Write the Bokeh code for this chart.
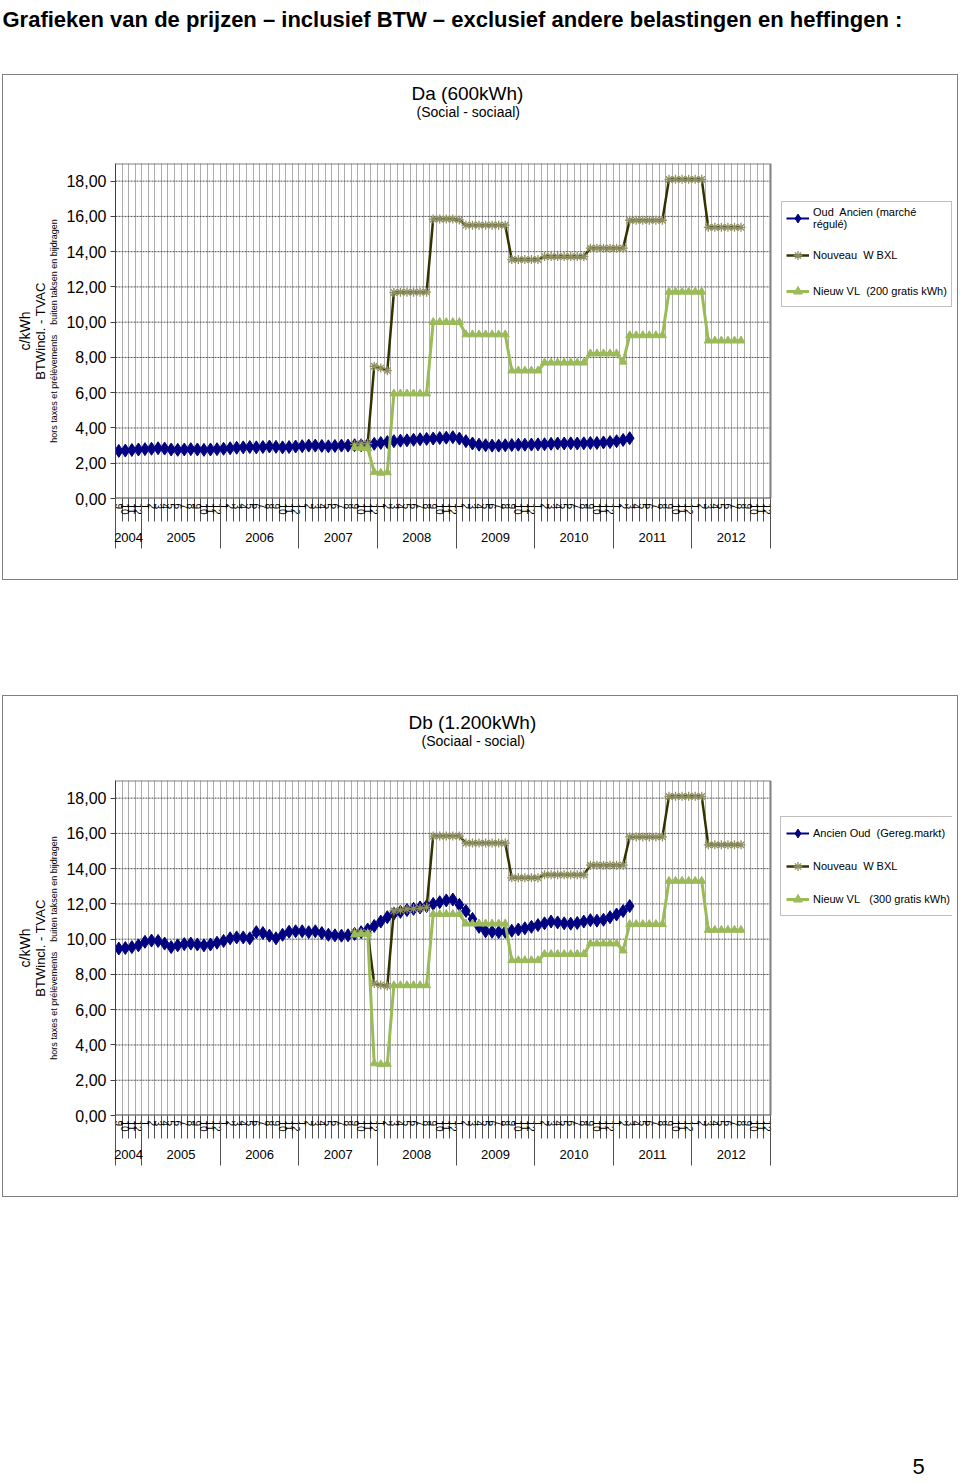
from bokeh.plotting import figure
from bokeh.models import (ColumnDataSource, FixedTicker, LinearAxis, Label, Legend,
                          LegendItem, Range1d, CustomJSTickFormatter, Grid, Title, Spacer)
from bokeh.layouts import column
from bokeh.embed import file_html
from bokeh.resources import INLINE

FONT = "Liberation Sans"

PAGE_TITLE = "Grafieken van de prijzen \u2013 inclusief BTW \u2013 exclusief andere belastingen en heffingen :"
PAGE_NUMBER = "5"

# ---- axes / categories ----
MONTH_LABELS = ["9", "10", "11", "12"] + ["1", "2", "3", "4", "5", "6", "7", "8", "9", "10", "11", "12"] * 8
N_MONTHS = len(MONTH_LABELS)          # Sep 2004 .. Dec 2012
YEAR_LABELS = ["2004", "2005", "2006", "2007", "2008", "2009", "2010", "2011", "2012"]
YEAR_FIRST_MONTH = [0, 4, 16, 28, 40, 52, 64, 76, 88]
Y_TICKS = [0, 2, 4, 6, 8, 10, 12, 14, 16, 18]
Y_TICK_LABELS = ["0,00", "2,00", "4,00", "6,00", "8,00", "10,00", "12,00", "14,00", "16,00", "18,00"]
Y_MAX = 19
NEW_START = 36   # first month of the "Nouveau" / "Nieuw" series

YLABEL_1 = "c/kWh"
YLABEL_2 = "BTWincl. - TVAC"
YLABEL_3 = "hors taxes et pr\u00e9l\u00e8vements\u00a0\u00a0\u00a0\u00a0buiten taksen en bijdragen"

# ---- chart Da (600 kWh) ----
DA_TITLE = "Da (600kWh)"
DA_SUBTITLE = "(Social - sociaal)"
DA_LEGEND = ["Oud\u00a0 Ancien (march\u00e9\nr\u00e9gul\u00e9)", "Nouveau\u00a0 W BXL", "Nieuw VL\u00a0 (200 gratis kWh)"]
DA_OUD = [2.70, 2.72, 2.75, 2.78,
          2.80, 2.82, 2.85, 2.83, 2.78, 2.76, 2.78, 2.80, 2.78, 2.76, 2.78, 2.80,
          2.82, 2.85, 2.88, 2.90, 2.92, 2.90, 2.92, 2.95, 2.93, 2.90, 2.92, 2.95,
          2.97, 3.00, 3.00, 2.98, 2.96, 2.98, 3.00, 3.00, 3.02, 3.02, 3.05, 3.10,
          3.15, 3.20, 3.25, 3.28, 3.30, 3.33, 3.36, 3.38, 3.40, 3.43, 3.45, 3.48,
          3.40, 3.25, 3.12, 3.05, 3.02, 3.00, 3.00, 3.02, 3.03, 3.05, 3.05, 3.06,
          3.07, 3.08, 3.10, 3.12, 3.12, 3.13, 3.12, 3.13, 3.15, 3.15, 3.18, 3.20,
          3.25, 3.32, 3.42]
DA_BXL = [3.05, 3.10, 3.12,
          7.50, 7.40, 7.25,
          11.68, 11.70, 11.70, 11.70, 11.70, 11.70,
          15.85, 15.85, 15.85, 15.85, 15.80,
          15.50, 15.50, 15.50, 15.50, 15.50, 15.50, 15.50,
          13.55, 13.55, 13.55, 13.55, 13.55,
          13.72, 13.72, 13.72, 13.72, 13.72, 13.72, 13.72,
          14.20, 14.20, 14.20, 14.20, 14.20, 14.20,
          15.78, 15.78, 15.78, 15.78, 15.78, 15.78,
          18.10, 18.10, 18.10, 18.10, 18.10, 18.10,
          15.38, 15.38, 15.38, 15.38, 15.38, 15.38]
DA_VL = [2.88, 2.85, 2.85,
         1.50, 1.45, 1.48,
         5.95, 5.95, 5.95, 5.95, 5.95, 5.95,
         10.00, 10.00, 10.00, 10.00, 10.00,
         9.30, 9.30, 9.30, 9.30, 9.30, 9.30, 9.30,
         7.25, 7.25, 7.25, 7.25, 7.25,
         7.70, 7.70, 7.70, 7.70, 7.70, 7.70, 7.70,
         8.22, 8.22, 8.22, 8.22, 8.22,
         7.75,
         9.25, 9.25, 9.25, 9.25, 9.25, 9.25,
         11.72, 11.72, 11.72, 11.72, 11.72, 11.72,
         8.95, 8.95, 8.95, 8.95, 8.95, 8.95]

# ---- chart Db (1.200 kWh) ----
DB_TITLE = "Db (1.200kWh)"
DB_SUBTITLE = "(Sociaal - social)"
DB_LEGEND = ["Ancien Oud\u00a0 (Gereg.markt)", "Nouveau\u00a0 W BXL", "Nieuw VL\u00a0\u00a0 (300 gratis kWh)"]
DB_OUD = [9.47, 9.50, 9.55, 9.65,
          9.85, 9.92, 9.90, 9.75, 9.55, 9.65, 9.72, 9.75, 9.70, 9.65, 9.70, 9.80,
          9.90, 10.05, 10.10, 10.10, 10.05, 10.40, 10.35, 10.20, 10.05, 10.25, 10.42, 10.45,
          10.45, 10.40, 10.45, 10.35, 10.25, 10.22, 10.20, 10.22, 10.30, 10.40, 10.55, 10.75,
          11.00, 11.25, 11.45, 11.55, 11.65, 11.72, 11.80, 11.88, 12.00, 12.10, 12.20, 12.25,
          11.95, 11.60, 11.15, 10.70, 10.45, 10.42, 10.40, 10.42, 10.48, 10.55, 10.62, 10.70,
          10.80, 10.90, 11.00, 10.95, 10.90, 10.88, 10.92, 11.00, 11.08, 11.05, 11.10, 11.25,
          11.40, 11.60, 11.88]
DB_BXL = [10.40, 10.38, 10.35,
          7.48, 7.40, 7.34,
          11.60, 11.65, 11.70, 11.72, 11.75, 11.80,
          15.85, 15.85, 15.85, 15.85, 15.85,
          15.45, 15.45, 15.45, 15.45, 15.45, 15.45, 15.45,
          13.48, 13.48, 13.48, 13.48, 13.48,
          13.65, 13.65, 13.65, 13.65, 13.65, 13.65, 13.65,
          14.20, 14.20, 14.20, 14.20, 14.20, 14.20,
          15.80, 15.80, 15.80, 15.80, 15.80, 15.80,
          18.10, 18.10, 18.10, 18.10, 18.10, 18.10,
          15.35, 15.35, 15.35, 15.35, 15.35, 15.35]
DB_VL = [10.25, 10.30, 10.30,
         2.95, 2.90, 2.92,
         7.38, 7.38, 7.38, 7.38, 7.38, 7.38,
         11.42, 11.42, 11.42, 11.42, 11.42,
         10.88, 10.88, 10.88, 10.88, 10.88, 10.88, 10.88,
         8.80, 8.80, 8.80, 8.80, 8.80,
         9.15, 9.15, 9.15, 9.15, 9.15, 9.15, 9.15,
         9.75, 9.75, 9.75, 9.75, 9.75,
         9.35,
         10.85, 10.85, 10.85, 10.85, 10.85, 10.85,
         13.30, 13.30, 13.30, 13.30, 13.30, 13.30,
         10.52, 10.52, 10.52, 10.52, 10.52, 10.52]

NAVY = "#000080"
OLIVE = "#333300"
OLIVE_MARK = "#8f8f60"
GREEN = "#9bbb59"
AXIS_COL = "#404040"
GRID_COL = "#505050"
BOX_COL = "#808080"

LOOKUP_JS = "const i = tvals.indexOf(tick); return i >= 0 ? tlabels[i] : '';"
PAGE_W = 956
PLOT_W = 655          # pixel width of the month area
FRAME_W = 837         # month area + legend area


def canvas_fig(w, h):
    f = figure(width=w, height=h, x_range=Range1d(0, w), y_range=Range1d(h, 0),
               x_axis_location=None, y_axis_location=None, toolbar_location=None,
               output_backend="svg", min_border=0, outline_line_color=None)
    f.grid.visible = False
    return f


def make_chart(fig_h, frame_top, title, subtitle, title_off, sub_off, split_gap,
               oud, bxl, vl, legend_labels, legend_loc, legend_pad, legend_spacing):
    W = PAGE_W - 2
    x_end = N_MONTHS * FRAME_W / PLOT_W
    p = figure(width=W, height=fig_h, x_range=Range1d(0, x_end), y_range=Range1d(0, Y_MAX),
               x_axis_location=None, y_axis_location=None, toolbar_location=None,
               output_backend="svg", min_border_left=112, min_border_right=W - 112 - FRAME_W,
               min_border_top=frame_top, min_border_bottom=fig_h - frame_top - 335,
               outline_line_color=None)
    p.grid.visible = False

    # titles stacked above the frame (first = closest to the frame)
    p.add_layout(Title(text="\u00a0", text_font_size="1px", standoff=split_gap), "above")
    p.add_layout(Title(text=subtitle, align="left", offset=sub_off, vertical_align="top",
                       standoff=0, text_font=FONT, text_font_size="14px",
                       text_font_style="normal", text_color="black"), "above")
    p.add_layout(Title(text=title, align="left", offset=title_off, vertical_align="bottom",
                       standoff=0, text_font=FONT, text_font_size="19px",
                       text_font_style="normal", text_color="black"), "above")

    # vertical month grid
    p.add_layout(Grid(dimension=0, ticker=FixedTicker(ticks=list(range(1, N_MONTHS))),
                      grid_line_color="#5a5a5a", grid_line_dash="1 1", grid_line_width=1))
    # horizontal grid limited to the month area
    gy = Y_TICKS[1:]
    p.segment(x0=[0] * len(gy), y0=gy, x1=[N_MONTHS] * len(gy), y1=gy,
              line_color=GRID_COL, line_dash="2 1", line_width=1)
    # plot-area border (top, right, bottom)
    p.segment(x0=[0, N_MONTHS, 0], y0=[Y_MAX, 0, 0], x1=[N_MONTHS, N_MONTHS, N_MONTHS],
              y1=[Y_MAX, Y_MAX, 0], line_color=["#808080", "#808080", AXIS_COL], line_width=2)

    x_all = [i + 0.5 for i in range(N_MONTHS)]
    s_oud = ColumnDataSource(dict(x=x_all[:len(oud)], y=oud))
    s_bxl = ColumnDataSource(dict(x=x_all[NEW_START:NEW_START + len(bxl)], y=bxl))
    s_vl = ColumnDataSource(dict(x=x_all[NEW_START:NEW_START + len(vl)], y=vl))

    l1 = p.line("x", "y", source=s_oud, line_color=NAVY, line_width=2)
    m1 = p.scatter("x", "y", source=s_oud, marker="diamond", size=13,
                   fill_color=NAVY, line_color=NAVY)
    l2 = p.line("x", "y", source=s_bxl, line_color=OLIVE, line_width=2.5)
    m2 = p.scatter("x", "y", source=s_bxl, marker="asterisk", size=9,
                   line_color=OLIVE_MARK, line_width=1.3)
    l3 = p.line("x", "y", source=s_vl, line_color=GREEN, line_width=3)
    m3 = p.scatter("x", "y", source=s_vl, marker="triangle", size=8,
                   fill_color=GREEN, line_color=GREEN)

    yax = LinearAxis(ticker=FixedTicker(ticks=Y_TICKS),
                     formatter=CustomJSTickFormatter(args=dict(tvals=Y_TICKS, tlabels=Y_TICK_LABELS),
                                                     code=LOOKUP_JS),
                     axis_label=YLABEL_3, axis_label_text_font=FONT, axis_label_text_font_size="9px",
                     axis_label_text_font_style="normal", axis_label_standoff=4,
                     axis_label_text_color="black",
                     major_label_text_font=FONT, major_label_text_font_size="16px",
                     major_label_text_color="black", major_label_standoff=4,
                     major_tick_out=5, major_tick_in=0, minor_tick_out=0, minor_tick_in=0,
                     axis_line_color=AXIS_COL, major_tick_line_color=AXIS_COL)
    p.add_layout(yax, "left")
    for txt, size, so in [(YLABEL_2, "13px", -1), (YLABEL_1, "14px", -3)]:
        ax = LinearAxis(ticker=FixedTicker(ticks=[]), axis_label=txt,
                        axis_label_text_font=FONT, axis_label_text_font_size=size,
                        axis_label_text_font_style="normal", axis_label_standoff=so,
                        axis_label_text_color="black",
                        major_label_text_font_size="0px", major_label_standoff=0,
                        major_tick_out=0, major_tick_in=0, minor_tick_out=0, minor_tick_in=0,
                        axis_line_color=None)
        p.add_layout(ax, "left")

    mx = LinearAxis(ticker=FixedTicker(ticks=x_all, minor_ticks=list(range(N_MONTHS + 1))),
                    formatter=CustomJSTickFormatter(args=dict(mlabels=MONTH_LABELS),
                                                    code="return mlabels[Math.floor(tick)] || '';"),
                    major_label_orientation="vertical", major_label_text_font=FONT,
                    major_label_text_font_size="10px", major_label_text_color="black",
                    major_label_standoff=-18,
                    major_tick_out=0, major_tick_in=0, minor_tick_out=23, minor_tick_in=0,
                    axis_line_color=None, minor_tick_line_color="#505050")
    p.add_layout(mx, "below")

    bounds = YEAR_FIRST_MONTH + [N_MONTHS]
    year_centers = [(bounds[k] + bounds[k + 1]) / 2 for k in range(len(YEAR_LABELS))]
    yx = LinearAxis(ticker=FixedTicker(ticks=year_centers, minor_ticks=bounds),
                    formatter=CustomJSTickFormatter(args=dict(tvals=year_centers, tlabels=YEAR_LABELS),
                                                    code=LOOKUP_JS),
                    major_label_text_font=FONT, major_label_text_font_size="13px",
                    major_label_text_color="black", major_label_standoff=-16,
                    major_tick_out=0, major_tick_in=0, minor_tick_in=16, minor_tick_out=31,
                    axis_line_color=None, minor_tick_line_color="#505050")
    p.add_layout(yx, "below")

    items = [LegendItem(label=legend_labels[0], renderers=[l1, m1]),
             LegendItem(label=legend_labels[1], renderers=[l2, m2]),
             LegendItem(label=legend_labels[2], renderers=[l3, m3])]
    leg = Legend(items=items, location=legend_loc, margin=0, padding=legend_pad,
                 spacing=legend_spacing, glyph_width=23, glyph_height=22, label_height=22,
                 label_standoff=4, label_text_font=FONT, label_text_font_size="11px",
                 label_text_color="black", border_line_color="#7f7f7f", border_line_width=1,
                 background_fill_color="white", background_fill_alpha=1)
    p.add_layout(leg, "center")
    return column(p, styles={"border": "1px solid " + BOX_COL})


top = canvas_fig(PAGE_W, 74)
top.add_layout(Label(x=0, y=19, text=PAGE_TITLE, text_font=FONT, text_font_size="22px",
                     text_font_style="bold", text_align="left", text_baseline="alphabetic",
                     text_color="black"))

box1 = make_chart(504, 88, DA_TITLE, DA_SUBTITLE, 296, 301, 39,
                  DA_OUD, DA_BXL, DA_VL, DA_LEGEND, (666, 191), 4, 14)
box2 = make_chart(500, 84, DB_TITLE, DB_SUBTITLE, 293, 306, 27,
                  DB_OUD, DB_BXL, DB_VL, DB_LEGEND, (665, 199), 5, 11)

foot = canvas_fig(PAGE_W, 282)
foot.add_layout(Label(x=916, y=269, text=PAGE_NUMBER, text_font=FONT, text_font_size="22px",
                      text_align="center", text_baseline="alphabetic", text_color="black"))

page = column(top, box1, Spacer(width=PAGE_W, height=115), box2, foot, margin=(0, 0, 0, 2))

open("out.html", "w").write(file_html(page, INLINE))
